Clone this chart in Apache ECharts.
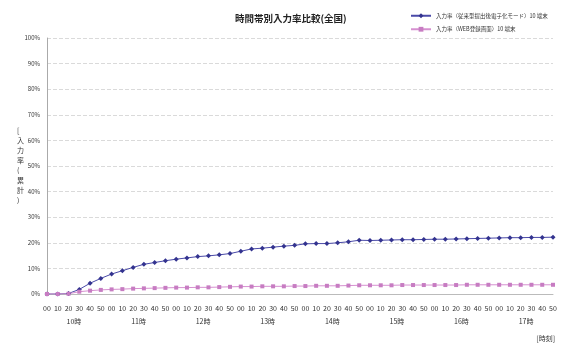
<!DOCTYPE html>
<html>
<head>
<meta charset="utf-8">
<script src="https://cdn.jsdelivr.net/npm/echarts@6/dist/echarts.min.js"></script>
<style>
  html, body { margin: 0; padding: 0; background: #fff; }
  #chart { width: 561px; height: 347px; }
</style>
</head>
<body>
<div id="chart"></div>
<script>
// 10-minute time slots from 10:00 to 17:50
const minuteLabels = [];
for (let h = 10; h <= 17; h++) {
  for (let m = 0; m < 60; m += 10) minuteLabels.push(m === 0 ? '00' : String(m));
}
const hourLabels = ['10時', '11時', '12時', '13時', '14時', '15時', '16時', '17時'];

const seriesNames = [
  '入力率（従来型提出後電子化モード）10 端末',
  '入力率（WEB登録画面）10 端末'
];

// cumulative input rate (%)
const rateA = [
  0, 0, 0.2, 1.8, 4.2, 6.1, 7.8, 9.1, 10.4, 11.6, 12.3, 13.0,
  13.6, 14.1, 14.6, 14.9, 15.3, 15.8, 16.7, 17.6, 17.9, 18.3, 18.7, 19.0,
  19.6, 19.7, 19.7, 20.0, 20.4, 21.0, 20.9, 21.0, 21.1, 21.2, 21.2, 21.3,
  21.4, 21.4, 21.5, 21.6, 21.7, 21.8, 21.9, 22.0, 22.0, 22.1, 22.1, 22.2
];
const rateB = [
  0, 0, 0.1, 0.9, 1.3, 1.6, 1.8, 1.9, 2.1, 2.2, 2.3, 2.4,
  2.5, 2.5, 2.6, 2.6, 2.7, 2.8, 2.9, 2.9, 3.0, 3.0, 3.0, 3.1,
  3.1, 3.2, 3.2, 3.2, 3.3, 3.4, 3.4, 3.4, 3.4, 3.5, 3.5, 3.5,
  3.5, 3.5, 3.5, 3.6, 3.6, 3.6, 3.6, 3.6, 3.6, 3.6, 3.6, 3.6
];

const font = '"Noto Sans CJK JP", "Noto Sans", sans-serif';
const chart = echarts.init(document.getElementById('chart'), null, { renderer: 'canvas' });

chart.setOption({
  animation: false,
  backgroundColor: '#ffffff',
  textStyle: { fontFamily: font },
  title: {
    text: '時間帯別入力率比較(全国)',
    left: 230,
    top: 9,
    textStyle: { fontSize: 9.5, fontWeight: 'bold', color: '#222', fontFamily: font }
  },
  legend: {
    orient: 'vertical',
    left: 405,
    top: 8,
    itemWidth: 20,
    itemHeight: 6,
    itemGap: 8,
    textStyle: { fontSize: 5.5, color: '#333', fontFamily: font },
    data: seriesNames
  },
  grid: { left: 47, right: 8, top: 38, bottom: 53 },
  xAxis: [
    {
      type: 'category',
      data: minuteLabels,
      boundaryGap: false,
      axisLine: { show: true, lineStyle: { color: '#bbb' } },
      axisTick: { show: false },
      axisLabel: { interval: 0, fontSize: 7, color: '#333', margin: 11, fontFamily: font },
      splitLine: { show: false }
    },
    {
      type: 'value',
      position: 'bottom',
      min: 0,
      max: minuteLabels.length - 1,
      offset: 16,
      axisLine: { show: false },
      axisTick: { show: false },
      splitLine: { show: false },
      axisLabel: {
        customValues: hourLabels.map((_, i) => i * 6 + 2.5),
        formatter: v => hourLabels[Math.floor(v / 6)],
        fontSize: 7,
        color: '#333',
        fontFamily: font
      }
    }
  ],
  yAxis: {
    type: 'value',
    min: 0,
    max: 100,
    interval: 10,
    axisLine: { show: true, lineStyle: { color: '#aaa' } },
    axisTick: { show: false },
    axisLabel: { formatter: '{value}%', fontSize: 6, color: '#333', margin: 7, fontFamily: font },
    splitLine: { show: true, lineStyle: { color: '#dadada', type: 'dashed', width: 1 } }
  },
  graphic: [
    {
      type: 'text',
      left: 17,
      top: 125,
      style: {
        text: '[\n入\n力\n率\n(\n累\n計\n)',
        fontSize: 7,
        lineHeight: 10,
        fill: '#333',
        align: 'center',
        fontFamily: font
      }
    },
    {
      type: 'text',
      right: 6,
      bottom: 5,
      style: { text: '[時刻]', fontSize: 7, fill: '#333', fontFamily: font }
    }
  ],
  series: [
    {
      name: seriesNames[0],
      type: 'line',
      xAxisIndex: 0,
      data: rateA,
      symbol: 'diamond',
      symbolSize: 5,
      itemStyle: { color: '#33338f' },
      lineStyle: { color: '#4a4aa8', width: 1 }
    },
    {
      name: seriesNames[1],
      type: 'line',
      xAxisIndex: 0,
      data: rateB,
      symbol: 'rect',
      symbolSize: 4,
      itemStyle: { color: '#c77cc2' },
      lineStyle: { color: '#d690d0', width: 1 }
    }
  ]
});
</script>
</body>
</html>
